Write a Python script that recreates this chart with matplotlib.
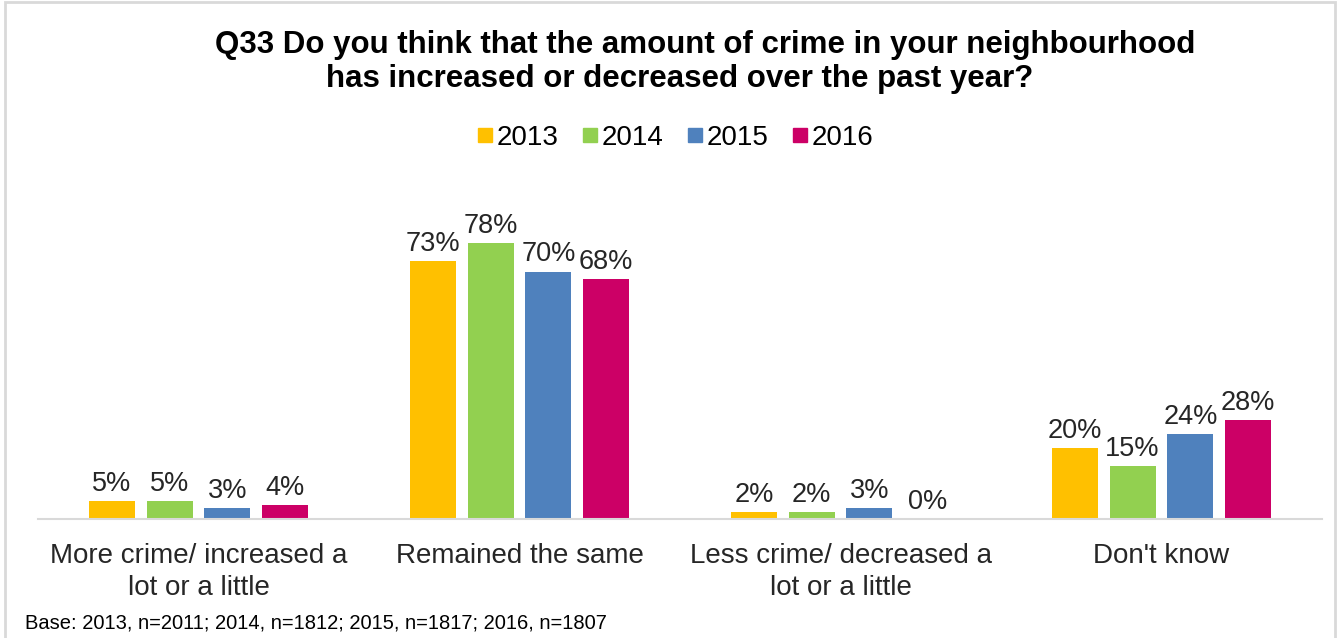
import numpy as np
import matplotlib
matplotlib.use('Agg')
import matplotlib.pyplot as plt
from matplotlib.lines import Line2D
from matplotlib.patches import Rectangle

plt.rcParams['font.family'] = ['Liberation Sans', 'DejaVu Sans']

categories = ['More crime/ increased a\nlot or a little',
              'Remained the same',
              'Less crime/ decreased a\nlot or a little',
              "Don't know"]
years = ['2013', '2014', '2015', '2016']
values = {
    '2013': [5, 73, 2, 20],
    '2014': [5, 78, 2, 15],
    '2015': [3, 70, 3, 24],
    '2016': [4, 68, 0, 28],
}
colors = ['#FFC000', '#92D050', '#4F81BD', '#CC0066']

title_lines = ['Q33 Do you think that the amount of crime in your neighbourhood',
               'has increased or decreased over the past year?']
base_note = 'Base: 2013, n=2011; 2014, n=1812; 2015, n=1817; 2016, n=1807'

fig = plt.figure(figsize=(13.42, 6.38), dpi=100)
ax = fig.add_axes([38 / 1342, 119 / 638, 1284 / 1342, 318 / 638])

x = np.arange(len(categories))
step = 0.18
width = 0.143
for i, (yr, col) in enumerate(zip(years, colors)):
    pos = x + (i - 1.5) * step
    bars = ax.bar(pos, values[yr], width=width, color=col, zorder=2)
    for b, v in zip(bars, values[yr]):
        ax.annotate(f'{v}%', (b.get_x() + b.get_width() / 2, v),
                    xytext=(0, 3), textcoords='offset points',
                    ha='center', va='bottom', fontsize=19.5, color='#262626')

ax.set_xlim(-0.5, 3.5)
ax.set_ylim(0, 90)
ax.set_yticks([])
ax.set_xticks(x)
ax.set_xticklabels(categories, fontsize=20, color='#262626', linespacing=1.3)
ax.tick_params(axis='x', length=0, pad=17)
for s in ['top', 'left', 'right']:
    ax.spines[s].set_visible(False)
ax.spines['bottom'].set_color('#D9D9D9')
ax.spines['bottom'].set_linewidth(1.5)

# title lines are centred slightly differently in the original
fig.text(705 / 1342, 1 - 45 / 638, title_lines[0], ha='center', va='center',
         fontsize=22.5, fontweight='bold', color='black')
fig.text(680 / 1342, 1 - 79 / 638, title_lines[1], ha='center', va='center',
         fontsize=22.5, fontweight='bold', color='black')

handles = [Line2D([], [], marker='s', linestyle='none', markersize=10,
                  markerfacecolor=c, markeredgecolor=c) for c in colors]
fig.legend(handles, years, loc='center', bbox_to_anchor=(675 / 1342, 1 - 138 / 638),
           ncol=4, frameon=False, fontsize=20, handlelength=0.6,
           handletextpad=0.1, columnspacing=0.85)

fig.text(25 / 1342, 1 - 623 / 638, base_note, ha='left', va='center',
         fontsize=14.5, color='black')

fig.patches.append(Rectangle((5 / 1342, -0.01), 1330 / 1342, 1 - 2 / 638 + 0.01,
                             transform=fig.transFigure, fill=False,
                             edgecolor='#D9D9D9', linewidth=2))

fig.savefig('out.png', dpi=100)
